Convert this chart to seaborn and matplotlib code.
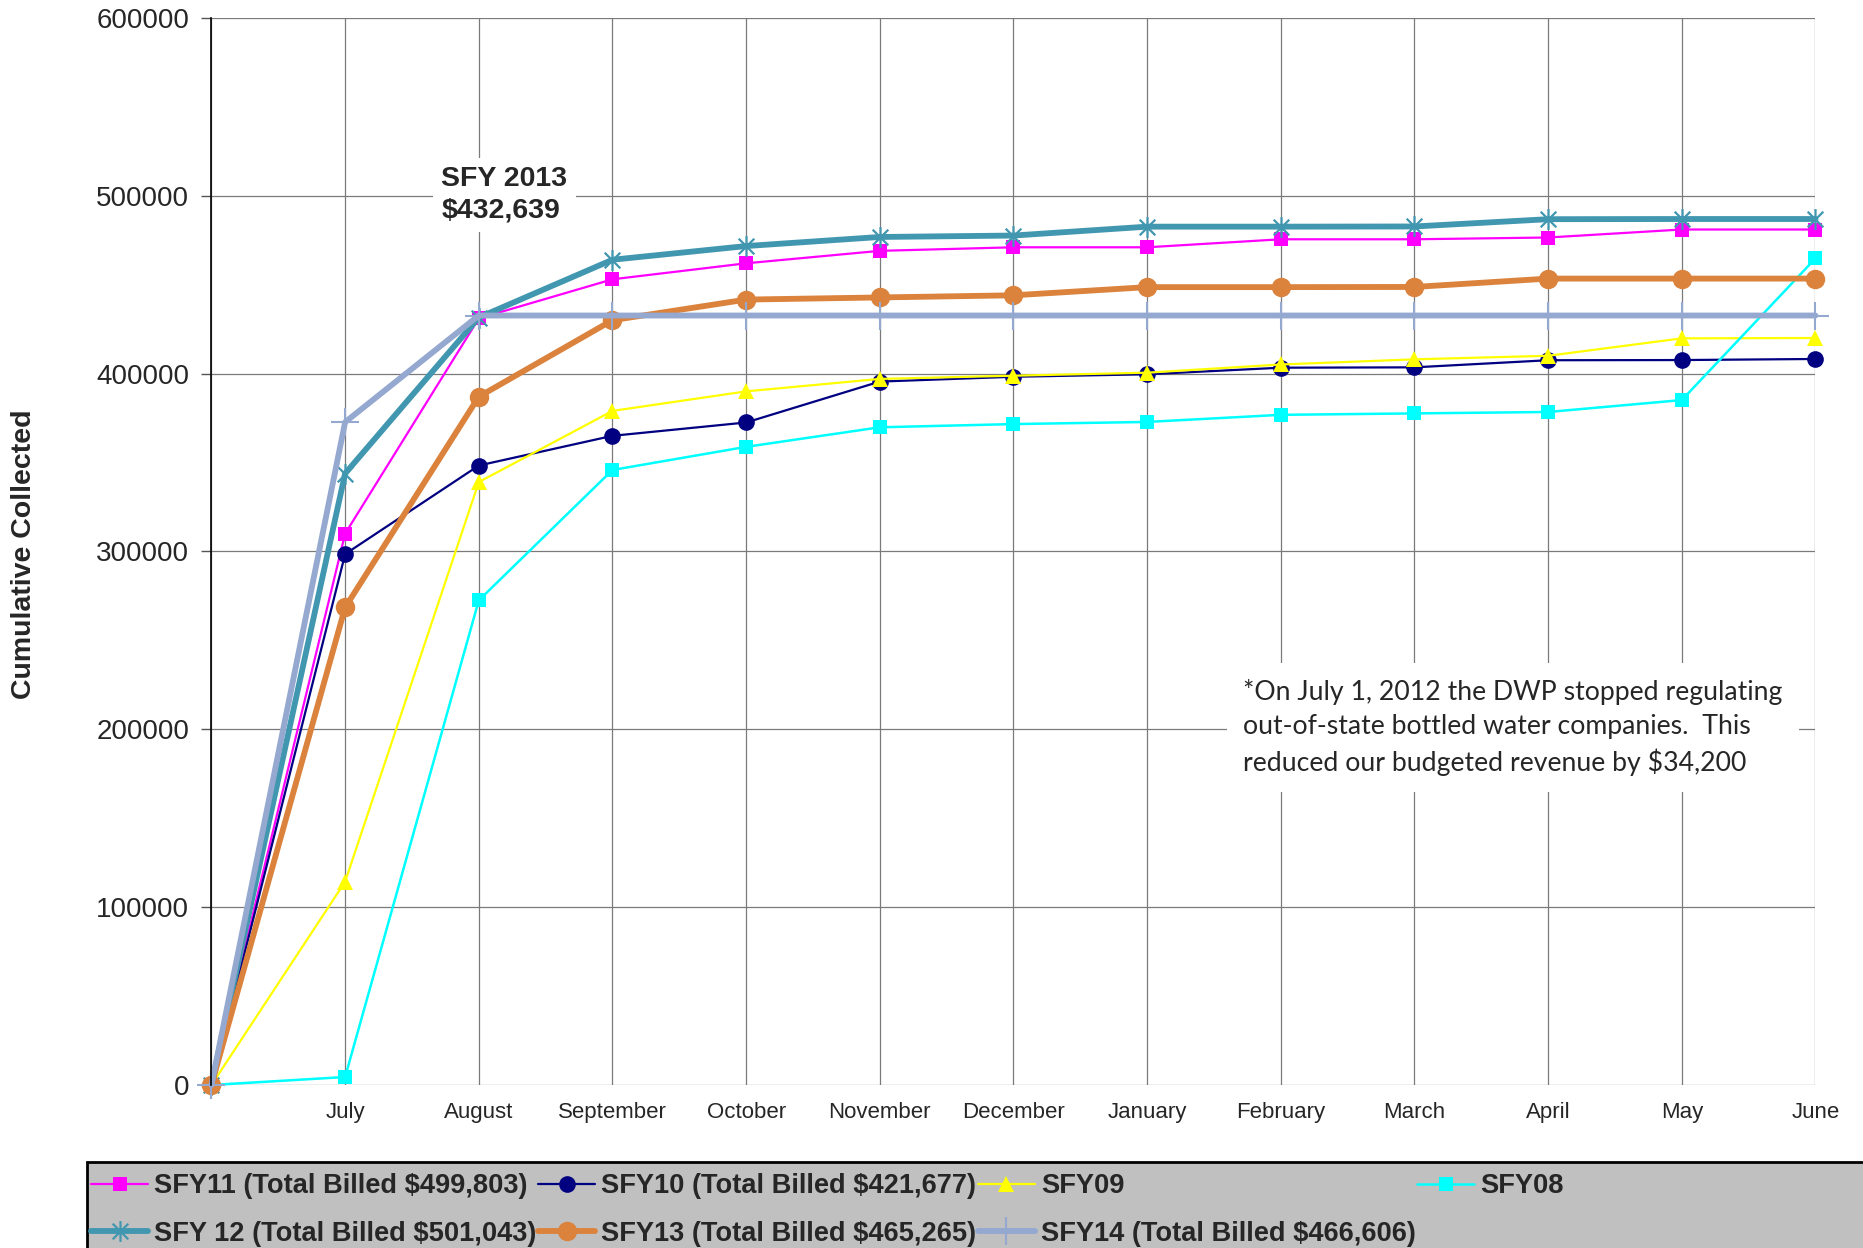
import numpy as np
import pandas as pd
import seaborn as sns
import matplotlib.pyplot as plt
from matplotlib.path import Path
from matplotlib.patches import Rectangle

# months along the x axis (first slot is the starting point, no label)
months = ['', 'July', 'August', 'September', 'October', 'November', 'December',
          'January', 'February', 'March', 'April', 'May', 'June']

# cumulative collected per series
sfy11 = [0, 310000, 431000, 453000, 462000, 469000, 471000, 471000, 475500, 475500, 476500, 481000, 481000]
sfy10 = [0, 298500, 348300, 365000, 372500, 395500, 398200, 399600, 403300, 403500, 407500, 407600, 408200]
sfy09 = [0, 114300, 339000, 379000, 390000, 397000, 398800, 400500, 405100, 408000, 410000, 419800, 420000]
sfy08 = [0, 4500, 272500, 345800, 358800, 369800, 371600, 372800, 376800, 377600, 378400, 385100, 464800]
sfy12 = [0, 343800, 431500, 464000, 471700, 476800, 477600, 482600, 482600, 482700, 486800, 486900, 486900]
sfy13 = [0, 268500, 387000, 430000, 441600, 442800, 444000, 448600, 448600, 448700, 453400, 453400, 453400]
sfy14 = [0, 372700, 432639, 432639, 432639, 432639, 432639, 432639, 432639, 432639, 432639, 432639, 432639]

labels = ['SFY11 (Total Billed $499,803)', 'SFY10 (Total Billed $421,677)', 'SFY09', 'SFY08',
          'SFY 12 (Total Billed $501,043)', 'SFY13 (Total Billed $465,265)', 'SFY14 (Total Billed $466,606)']

sns.set_style('white')
plt.rcParams['font.family'] = ['Liberation Sans', 'DejaVu Sans']

# asterisk marker like the spreadsheet "star"
star = Path([(0, -1), (0, 1), (-0.75, -0.75), (0.75, 0.75), (-0.75, 0.75), (0.75, -0.75)],
            [Path.MOVETO, Path.LINETO, Path.MOVETO, Path.LINETO, Path.MOVETO, Path.LINETO])

styles = [
    dict(color='#FF00FF', lw=1.6, marker='s', ms=10),
    dict(color='#000080', lw=1.6, marker='o', ms=12),
    dict(color='#FFFF00', lw=1.6, marker='^', ms=12),
    dict(color='#00FFFF', lw=1.8, marker='s', ms=10),
    dict(color='#4297B0', lw=4.2, marker=star, ms=15, mew=1.6),
    dict(color='#DB823C', lw=4.2, marker='o', ms=14),
    dict(color='#94A8D0', lw=4.2, marker='+', ms=20, mew=1.5),
]
series = [sfy11, sfy10, sfy09, sfy08, sfy12, sfy13, sfy14]

fig = plt.figure(figsize=(18.63, 12.48), dpi=100)
ax = fig.add_axes([0.1135, 0.1306, 0.861, 0.8551])

x = np.arange(len(months))
handles = []
for vals, lab, st in zip(series, labels, styles):
    df = pd.DataFrame({'pos': x, 'val': vals})
    sns.lineplot(data=df, x='pos', y='val', ax=ax, color=st['color'], linewidth=st['lw'],
                 marker=st['marker'], markersize=st['ms'], mew=st.get('mew', 0),
                 markeredgecolor=st['color'], clip_on=False, label=lab, legend=False)
    handles.append(ax.lines[-1])

ax.set_xlim(0, 12)
ax.set_ylim(0, 600000)
ax.set_xticks(x)
ax.set_xticklabels(months, fontsize=16)
ax.set_yticks(np.arange(0, 600001, 100000))
ax.set_yticklabels([str(v) for v in range(0, 600001, 100000)], fontsize=20)
ax.tick_params(axis='x', length=0, pad=12)
ax.tick_params(axis='y', length=7, width=1, color='#555555', pad=9, left=True)
ax.set_xlabel('')
ax.set_ylabel('')
ax.grid(True, color='#7a7a7a', linewidth=0.9)
ax.set_axisbelow(True)
for s in ['top', 'right', 'bottom']:
    ax.spines[s].set_visible(False)
ax.spines['left'].set_color('black')
ax.spines['left'].set_linewidth(1.2)

fig.text(0.0128, 0.556, 'Cumulative Collected', rotation=90, fontsize=20.5,
         fontweight='bold', ha='center', va='center')

ax.text(1.72, 500500, 'SFY 2013\n$432,639', fontsize=20.5, fontweight='bold',
        ha='left', va='center', linespacing=1.25,
        bbox=dict(facecolor='white', edgecolor='none', pad=6))

ax.text(7.72, 201000, '*On July 1, 2012 the DWP stopped regulating\n'
        'out-of-state bottled water companies.  This\n'
        'reduced our budgeted revenue by $34,200',
        fontsize=19.2, family=['Lato', 'DejaVu Sans'], ha='left', va='center',
        linespacing=1.42, bbox=dict(facecolor='white', edgecolor='none', pad=12))

# grey legend band along the bottom
fig.add_artist(Rectangle((0.0466, -0.02), 1.0, 0.0689 + 0.02, transform=fig.transFigure,
                         facecolor='#C0C0C0', edgecolor='black', linewidth=2))

order = [0, 4, 1, 5, 2, 6, 3]
fig.legend([handles[i] for i in order], [labels[i] for i in order],
           loc='upper left', bbox_to_anchor=(0.049, 0.060), ncol=4, frameon=False,
           prop={'weight': 'bold', 'size': 19.6, 'family': ['Liberation Sans', 'DejaVu Sans']},
           handlelength=2.1, handletextpad=0.22, columnspacing=0.05, labelspacing=0.8,
           borderaxespad=0, borderpad=0, numpoints=1)

fig.savefig('out.png', dpi=100)
